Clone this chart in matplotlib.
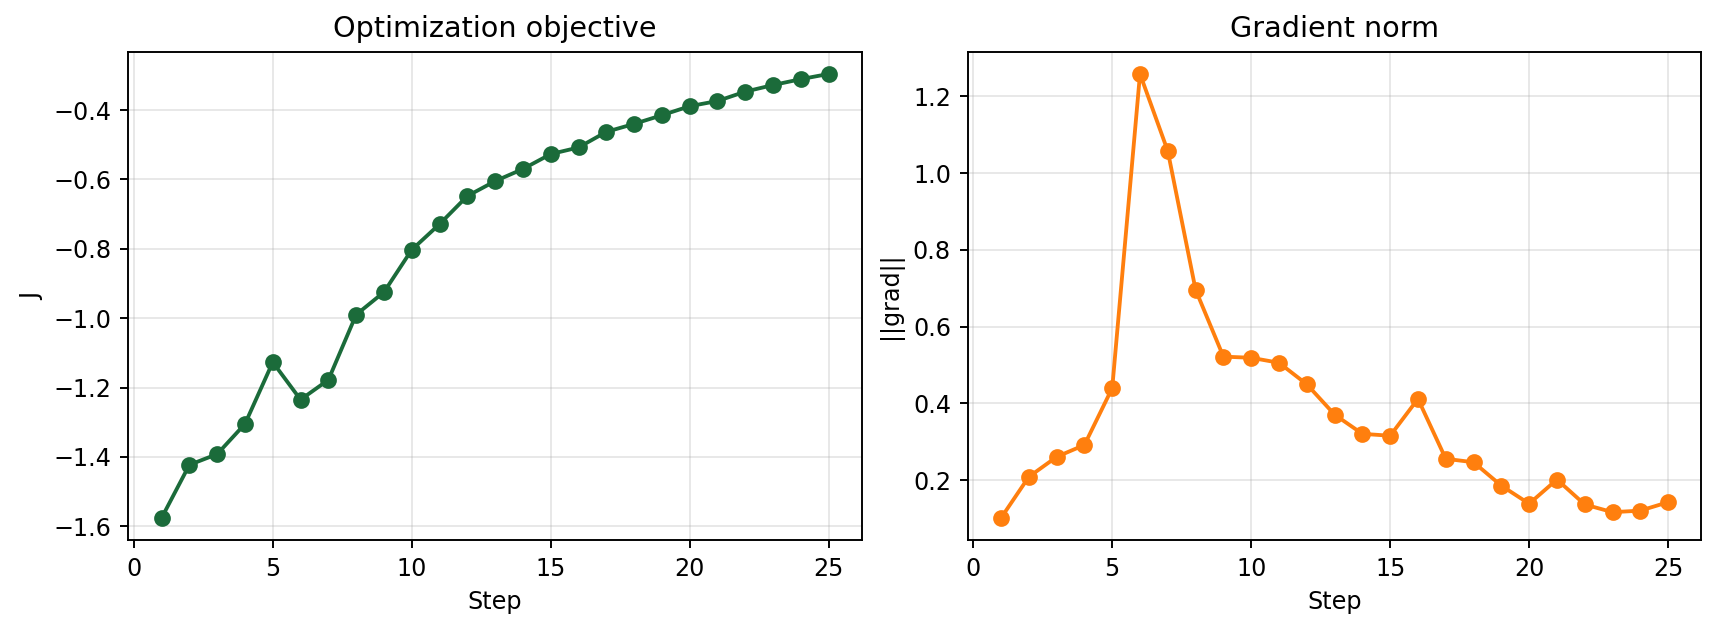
import numpy as np
import matplotlib
matplotlib.use("Agg")
import matplotlib.pyplot as plt

steps = list(range(1, 26))
objective = [-1.576, -1.423, -1.392, -1.305, -1.127, -1.235, -1.178, -0.990, -0.925, -0.803,
             -0.729, -0.648, -0.605, -0.570, -0.527, -0.508, -0.463, -0.440, -0.415, -0.389,
             -0.374, -0.347, -0.328, -0.311, -0.296]
grad_norm = [0.102, 0.209, 0.261, 0.292, 0.440, 1.258, 1.057, 0.696, 0.522, 0.519,
             0.506, 0.450, 0.371, 0.321, 0.316, 0.412, 0.256, 0.247, 0.186, 0.139,
             0.202, 0.137, 0.117, 0.121, 0.143]

dpi = 172
fig, (ax1, ax2) = plt.subplots(1, 2, figsize=(1719 / dpi, 631 / dpi), dpi=dpi)

ax1.plot(steps, objective, marker='o', color='#1b6b3a', markersize=6, linewidth=1.6)
ax1.set_title("Optimization objective")
ax1.set_xlabel("Step")
ax1.set_ylabel("J")
ax1.grid(True, alpha=0.3)

ax2.plot(steps, grad_norm, marker='o', color='#ff7f0e', markersize=6, linewidth=1.6)
ax2.set_title("Gradient norm")
ax2.set_xlabel("Step")
ax2.set_ylabel("||grad||")
ax2.grid(True, alpha=0.3)

fig.subplots_adjust(left=0.0746, right=0.9898, top=0.918, bottom=0.144, wspace=0.144)
fig.savefig("out.png", dpi=dpi)
